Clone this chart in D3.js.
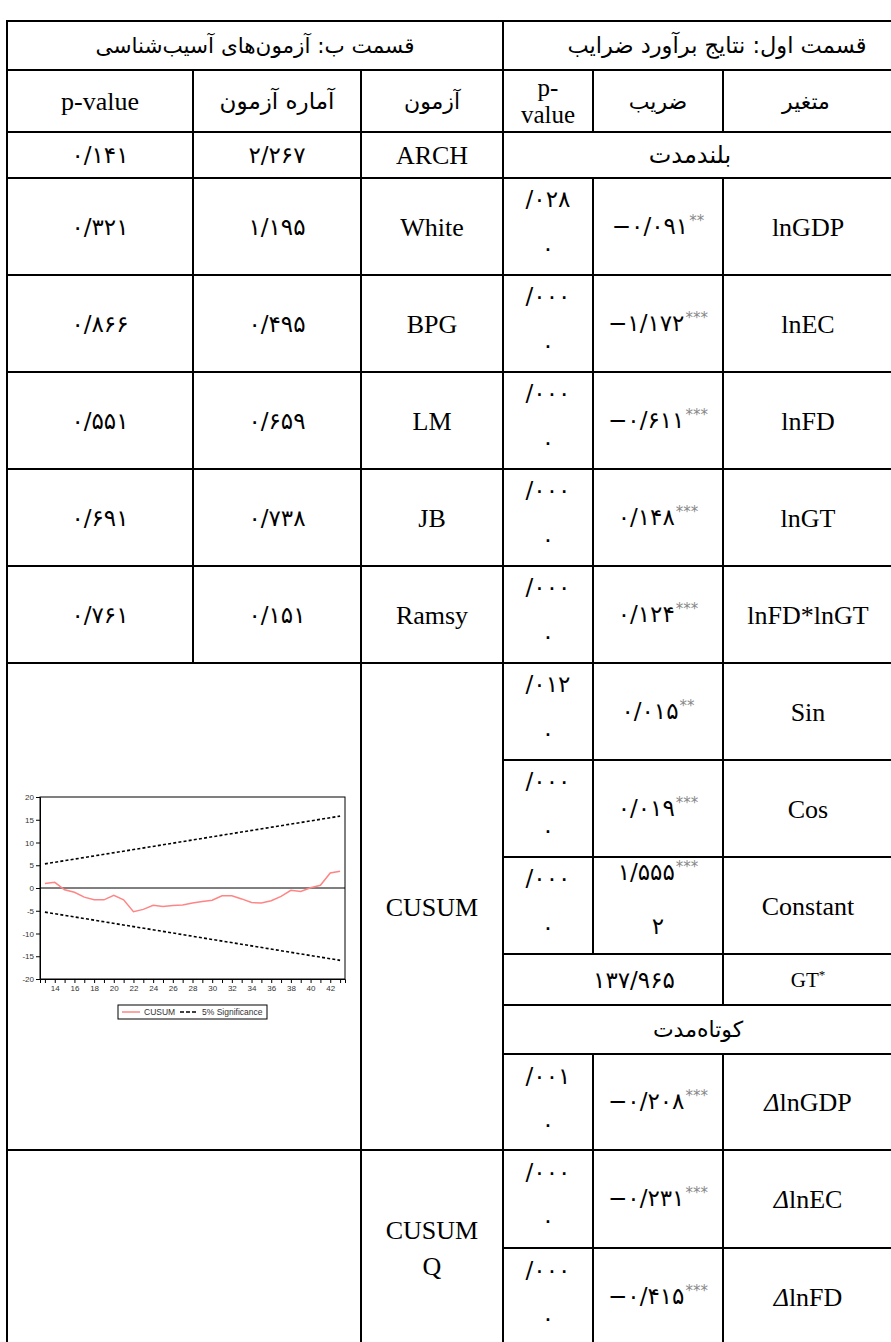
<!DOCTYPE html>
<html><head><meta charset="utf-8">
<script src="https://cdn.jsdelivr.net/npm/d3@7"></script>
<style>
html,body{margin:0;padding:0;background:#fff;}
svg{display:block;}
</style></head><body>
<svg id="c" width="891" height="1342"></svg>
<script>
// ---------------- DATA ----------------
const headerB = "قسمت ب: آزمون‌های آسیب‌شناسی";
const headerA = "قسمت اول: نتایج برآورد ضرایب";
const colHeadsB = ["p-value", "آماره آزمون", "آزمون"];
const colHeadsA = ["p-\nvalue", "ضریب", "متغیر"];
const longRunLabel = "بلندمدت";
const shortRunLabel = "کوتاه‌مدت";

const diagTests = ["ARCH", "White", "BPG", "LM", "JB", "Ramsy"];
const diagStats = ["۲/۲۶۷", "۱/۱۹۵", "۰/۴۹۵", "۰/۶۵۹", "۰/۷۳۸", "۰/۱۵۱"];
const diagPvals = ["۰/۱۴۱", "۰/۳۲۱", "۰/۸۶۶", "۰/۵۵۱", "۰/۶۹۱", "۰/۷۶۱"];
const stabilityTests = ["CUSUM", "CUSUM\nQ"];

const longVars  = ["lnGDP", "lnEC", "lnFD", "lnGT", "lnFD*lnGT", "Sin", "Cos", "Constant"];
const longCoefs = ["−۰/۰۹۱", "−۱/۱۷۲", "−۰/۶۱۱", "۰/۱۴۸", "۰/۱۲۴", "۰/۰۱۵", "۰/۰۱۹", "۱/۵۵۵"];
const longCoefTail = ["", "", "", "", "", "", "", "۲"];
const longStars = ["**", "***", "***", "***", "***", "**", "***", "***"];
const longPvals = ["/۰۲۸", "/۰۰۰", "/۰۰۰", "/۰۰۰", "/۰۰۰", "/۰۱۲", "/۰۰۰", "/۰۰۰"];
const longPvalTail = ["۰", "۰", "۰", "۰", "۰", "۰", "۰", "۰"];

const thresholdName = "GT";
const thresholdValue = "۱۳۷/۹۶۵";

const shortVars  = ["lnGDP", "lnEC", "lnFD"];
const shortCoefs = ["−۰/۲۰۸", "−۰/۲۳۱", "−۰/۴۱۵"];
const shortStars = ["***", "***", "***"];
const shortPvals = ["/۰۰۱", "/۰۰۰", "/۰۰۰"];
const shortPvalTail = ["۰", "۰", "۰"];

// CUSUM chart
const cusumT = [13,14,15,16,17,18,19,20,21,22,23,24,25,26,27,28,29,30,31,32,33,34,35,36,37,38,39,40,41,42,43];
const cusumValues = [1.0,1.25,-0.4,-0.95,-2.0,-2.6,-2.6,-1.6,-2.6,-5.2,-4.7,-3.8,-4.05,-3.85,-3.75,-3.3,-2.95,-2.7,-1.7,-1.7,-2.4,-3.2,-3.3,-2.8,-1.85,-0.5,-0.75,0.05,0.6,3.3,3.7];
const bandT = [13, 43];
const bandUpper = [5.3, 15.8];
const bandLower = [-5.3, -15.9];
const yTicks = [-20,-15,-10,-5,0,5,10,15,20];
const xTicks = [13,14,15,16,17,18,19,20,21,22,23,24,25,26,27,28,29,30,31,32,33,34,35,36,37,38,39,40,41,42,43];
const xTickLabels = ["","14","","16","","18","","20","","22","","24","","26","","28","","30","","32","","34","","36","","38","","40","","42",""];
const legendItems = ["CUSUM", "5% Significance"];

// ---------------- LAYOUT ----------------
const svg = d3.select("#c");
svg.append("rect").attr("width", 891).attr("height", 1342).attr("fill", "#fff");

const LAT = "'Liberation Serif','Times New Roman',serif";
const FA = "'DejaVu Sans',sans-serif";
const LATSIZE = 26, NUMSIZE = 23, LABSIZE = 22;

const xB = [7, 193, 361, 503];     // p-value | stat | test
const xA = [503, 593, 723, 893];   // p-value | coef | variable
const cx = (a, b) => (a + b) / 2;

const g = svg.append("g");
function line(x1, y1, x2, y2) {
  g.append("line").attr("x1", x1).attr("y1", y1).attr("x2", x2).attr("y2", y2)
    .attr("stroke", "#000").attr("stroke-width", 2).attr("stroke-linecap", "square");
}
function text(x, y, s, opts = {}) {
  const t = svg.append("text").attr("x", x).attr("y", y).attr("dy", "0.35em")
    .attr("text-anchor", opts.anchor || "middle")
    .attr("font-family", opts.fa ? FA : LAT)
    .attr("font-size", opts.size || (opts.fa ? NUMSIZE : LATSIZE))
    .attr("fill", "#000");
  if (opts.rtl) t.attr("direction", "rtl").style("unicode-bidi", "embed");
  else t.attr("direction", "ltr");
  t.text(s);
  return t;
}
function coef(x, y, num, stars) {
  const t = svg.append("text").attr("x", x).attr("y", y).attr("dy", "0.35em")
    .attr("text-anchor", "middle").attr("direction", "ltr")
    .attr("font-family", FA).attr("font-size", NUMSIZE);
  t.append("tspan").text(num);
  t.append("tspan").attr("dy", -8).attr("dx", 1).attr("font-size", 15).attr("fill", "#888").text(stars);
  return t;
}

// horizontal rules
[21, 70, 132, 178, 275, 372, 469, 566, 663, 1150].forEach(y => line(xB[0], y, xA[3], y));
[760, 857, 954, 1005, 1054, 1248].forEach(y => line(xA[0], y, xA[3], y));
// vertical rules
line(xB[0], 21, xB[0], 1346);
line(xB[3], 21, xB[3], 1346);
line(xA[3], 21, xA[3], 1346);
line(xB[1], 70, xB[1], 663);
line(xB[2], 70, xB[2], 1346);
line(xA[1], 70, xA[1], 132); line(xA[1], 178, xA[1], 954); line(xA[1], 1054, xA[1], 1346);
line(xA[2], 70, xA[2], 132); line(xA[2], 178, xA[2], 1005); line(xA[2], 1054, xA[2], 1346);

// headers
text(cx(xB[0], xB[3]), 45, headerB, {fa: true, rtl: true, size: 21.5});
text(717, 45, headerA, {fa: true, rtl: true, size: 22.5});
text(cx(xB[0], xB[1]), 101, colHeadsB[0]);
text(cx(xB[1], xB[2]), 101, colHeadsB[1], {fa: true, rtl: true, size: LABSIZE + 1});
text(cx(xB[2], xB[3]), 101, colHeadsB[2], {fa: true, rtl: true, size: LABSIZE});
const ph = colHeadsA[0].split("\n");
text(cx(xA[0], xA[1]), 87, ph[0], {size: 25});
text(cx(xA[0], xA[1]), 114, ph[1], {size: 25});
text(cx(xA[1], xA[2]), 101, colHeadsA[1], {fa: true, rtl: true, size: LABSIZE});
text(806, 101, colHeadsA[2], {fa: true, rtl: true, size: LABSIZE});

// part B diagnostics rows
const diagRowsY = [132, 178, 275, 372, 469, 566, 663];
diagTests.forEach((d, i) => {
  const yc = cx(diagRowsY[i], diagRowsY[i + 1]);
  text(cx(xB[2], xB[3]), yc, d);
  text(cx(xB[1], xB[2]), yc, diagStats[i], {fa: true});
  text(cx(xB[0], xB[1]), yc, diagPvals[i], {fa: true});
});
// stability tests labels
text(cx(xB[2], xB[3]), cx(663, 1150), stabilityTests[0]);
const sq = stabilityTests[1].split("\n");
text(cx(xB[2], xB[3]), 1230, sq[0]);
text(cx(xB[2], xB[3]), 1266, sq[1]);

// part A long run
text(cx(xA[0], xA[3]) - 8, cx(132, 178), longRunLabel, {fa: true, rtl: true, size: LABSIZE + 2});
const longRowsY = [178, 275, 372, 469, 566, 663, 760, 857, 954];
longVars.forEach((v, i) => {
  const y0 = longRowsY[i], y1 = longRowsY[i + 1], yc = cx(y0, y1);
  text(808, yc, v);
  if (longCoefTail[i]) {
    coef(cx(xA[1], xA[2]), y0 + 15, longCoefs[i], longStars[i]);
    text(cx(xA[1], xA[2]), y0 + 69, longCoefTail[i], {fa: true});
  } else {
    coef(cx(xA[1], xA[2]), yc - 1, longCoefs[i], longStars[i]);
  }
  text(cx(xA[0], xA[1]), y0 + 21, longPvals[i], {fa: true});
  text(cx(xA[0], xA[1]), y0 + 70, longPvalTail[i], {fa: true});
});
// threshold row
{
  const t = svg.append("text").attr("x", 808).attr("y", cx(954, 1005)).attr("dy", "0.35em")
    .attr("text-anchor", "middle").attr("font-family", LAT).attr("font-size", 21);
  t.append("tspan").text(thresholdName);
  t.append("tspan").attr("dy", -8).attr("font-size", 13).text("*");
  text(634, cx(954, 1005), thresholdValue, {fa: true});
}
// short run
text(cx(xA[0], xA[3]), cx(1005, 1054), shortRunLabel, {fa: true, rtl: true, size: LABSIZE});
const shortRowsY = [1054, 1150, 1248, 1346];
shortVars.forEach((v, i) => {
  const y0 = shortRowsY[i], y1 = shortRowsY[i + 1], yc = cx(y0, y1);
  const t = svg.append("text").attr("x", 808).attr("y", yc).attr("dy", "0.35em")
    .attr("text-anchor", "middle").attr("font-family", LAT).attr("font-size", LATSIZE);
  t.append("tspan").attr("font-style", "italic").text("Δ");
  t.append("tspan").text(v);
  coef(cx(xA[1], xA[2]), yc - 1, shortCoefs[i], shortStars[i]);
  text(cx(xA[0], xA[1]), y0 + 22, shortPvals[i], {fa: true});
  text(cx(xA[0], xA[1]), y0 + 70, shortPvalTail[i], {fa: true});
});

// ---------------- CUSUM CHART ----------------
const SANS = "'Liberation Sans',Arial,sans-serif";
const x = d3.scaleLinear().domain([12.5, 43.5]).range([40, 345]);
const y = d3.scaleLinear().domain([-20, 20]).range([979, 797]);
const ch = svg.append("g");

ch.append("line").attr("x1", x(12.5)).attr("x2", x(43.5)).attr("y1", y(0)).attr("y2", y(0))
  .attr("stroke", "#000").attr("stroke-width", 1);

const ln = d3.line().x(d => x(d[0])).y(d => y(d[1]));
ch.append("path").datum(bandT.map((t, i) => [t, bandUpper[i]])).attr("d", ln)
  .attr("fill", "none").attr("stroke", "#000").attr("stroke-width", 1.6).attr("stroke-dasharray", "3,2.2");
ch.append("path").datum(bandT.map((t, i) => [t, bandLower[i]])).attr("d", ln)
  .attr("fill", "none").attr("stroke", "#000").attr("stroke-width", 1.6).attr("stroke-dasharray", "3,2.2");
ch.append("path").datum(cusumT.map((t, i) => [t, cusumValues[i]])).attr("d", ln)
  .attr("fill", "none").attr("stroke", "#ff8585").attr("stroke-width", 1.5);

ch.append("rect").attr("x", x(12.5)).attr("y", y(20)).attr("width", x(43.5) - x(12.5)).attr("height", y(-20) - y(20))
  .attr("fill", "none").attr("stroke", "#000").attr("stroke-width", 1);

const yAx = ch.append("g").attr("transform", `translate(${x(12.5)},0)`)
  .call(d3.axisLeft(y).tickValues(yTicks).tickSize(4).tickPadding(2).tickFormat(d => String(d)));
const xAx = ch.append("g").attr("transform", `translate(0,${y(-20)})`)
  .call(d3.axisBottom(x).tickValues(xTicks).tickSize(4).tickPadding(2).tickFormat((d, i) => xTickLabels[i]));
[yAx, xAx].forEach(a => {
  a.select(".domain").attr("stroke", "#000");
  a.selectAll(".tick line").attr("stroke", "#000");
  a.selectAll("text").attr("font-family", SANS).attr("font-size", 8).attr("fill", "#333");
});

// legend
const lg = ch.append("g");
lg.append("rect").attr("x", 118).attr("y", 1005).attr("width", 149).attr("height", 14)
  .attr("fill", "#fff").attr("stroke", "#000").attr("stroke-width", 1);
lg.append("line").attr("x1", 122).attr("x2", 140).attr("y1", 1012).attr("y2", 1012)
  .attr("stroke", "#ff8585").attr("stroke-width", 1.5);
lg.append("text").attr("x", 144).attr("y", 1012).attr("dy", "0.35em").attr("font-family", SANS)
  .attr("font-size", 8.5).attr("fill", "#333").text(legendItems[0]);
lg.append("line").attr("x1", 180).attr("x2", 198).attr("y1", 1012).attr("y2", 1012)
  .attr("stroke", "#000").attr("stroke-width", 1.6).attr("stroke-dasharray", "4,2");
lg.append("text").attr("x", 202).attr("y", 1012).attr("dy", "0.35em").attr("font-family", SANS)
  .attr("font-size", 8.5).attr("fill", "#333").text(legendItems[1]);
</script>
</body></html>
